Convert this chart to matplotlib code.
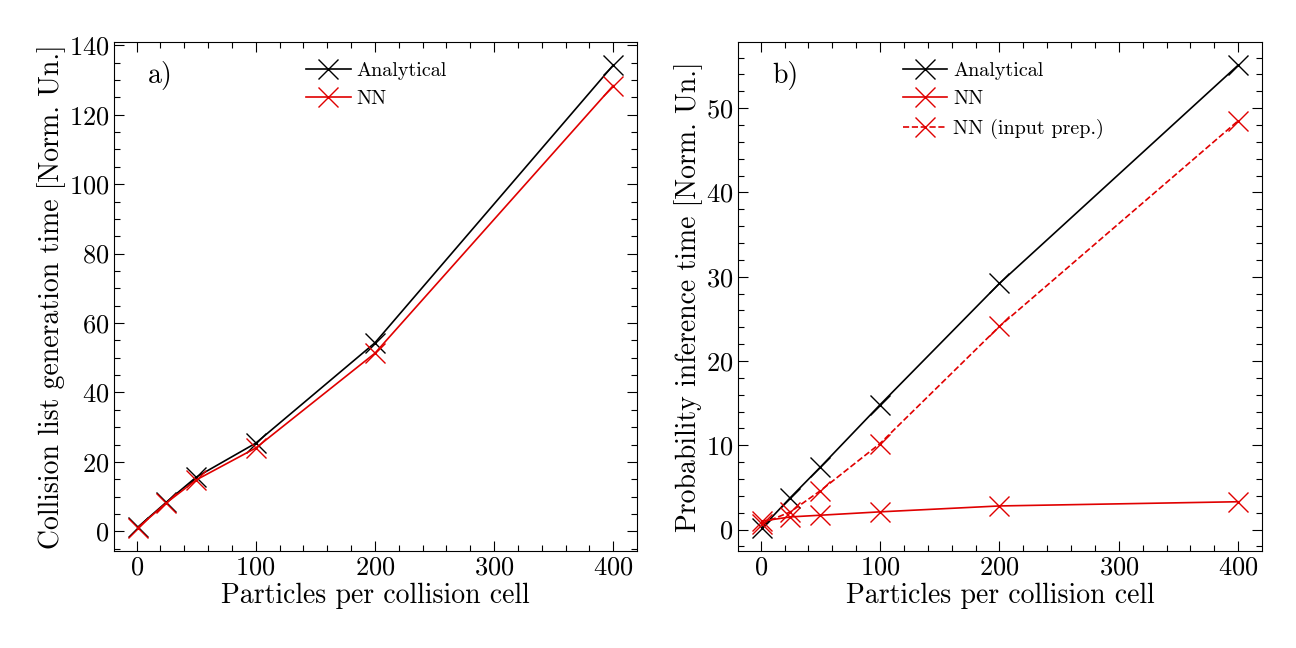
import matplotlib
matplotlib.use("Agg")
import matplotlib.pyplot as plt
from matplotlib.ticker import MultipleLocator

plt.rcParams['font.family'] = 'serif'
plt.rcParams['font.serif'] = ['cmr10']
plt.rcParams['mathtext.fontset'] = 'cm'
plt.rcParams['axes.formatter.use_mathtext'] = True

particles = [1, 25, 50, 100, 200, 400]

# panel a)
coll_analytical = [1.2, 8.4, 15.6, 25.4, 54.3, 134.3]
coll_nn = [1.0, 8.2, 14.8, 24.0, 51.3, 128.4]

# panel b)
prob_analytical = [0.2, 3.8, 7.4, 14.8, 29.2, 55.1]
prob_nn = [1.0, 1.5, 1.7, 2.1, 2.8, 3.3]
prob_nn_prep = [0.7, 2.1, 4.6, 10.2, 24.1, 48.5]

fig = plt.figure(figsize=(12.96, 6.48), dpi=100)
ax1 = fig.add_axes([114/1296, 97/648, 523/1296, 509/648])
ax2 = fig.add_axes([738/1296, 97/648, 524/1296, 509/648])

mk = dict(marker='x', markersize=15, markeredgewidth=1.0, linewidth=1.2)

ax1.plot(particles, coll_analytical, color='black', label='Analytical', **mk)
ax1.plot(particles, coll_nn, color='#e00000', label='NN', **mk)

ax2.plot(particles, prob_analytical, color='black', label='Analytical', **mk)
ax2.plot(particles, prob_nn, color='#e00000', label='NN', **mk)
ax2.plot(particles, prob_nn_prep, color='#e00000', linestyle='--', label='NN (input prep.)', **mk)

for ax in (ax1, ax2):
    ax.tick_params(which='both', direction='in', top=True, right=True, labelsize=19)
    ax.tick_params(which='major', length=7, width=0.8)
    ax.tick_params(which='minor', length=4, width=0.8)
    ax.xaxis.set_major_locator(MultipleLocator(100))
    ax.xaxis.set_minor_locator(MultipleLocator(20))
    ax.set_xlabel('Particles per collision cell', fontsize=20, labelpad=2)
    for s in ax.spines.values():
        s.set_linewidth(0.8)

ax1.yaxis.set_major_locator(MultipleLocator(20))
ax1.yaxis.set_minor_locator(MultipleLocator(5))
ax2.yaxis.set_major_locator(MultipleLocator(10))
ax2.yaxis.set_minor_locator(MultipleLocator(2))

ax1.set_ylabel('Collision list generation time [Norm. Un.]', fontsize=20, labelpad=2)
ax2.set_ylabel('Probability inference time [Norm. Un.]', fontsize=20, labelpad=2)

ax1.text(0.065, 0.935, 'a)', transform=ax1.transAxes, fontsize=20, va='center')
ax2.text(0.065, 0.935, 'b)', transform=ax2.transAxes, fontsize=20, va='center')

ax1.legend(loc='upper left', bbox_to_anchor=(0.333, 0.997), frameon=False, fontsize=14.5,
           handlelength=2.2, handletextpad=0.3, labelspacing=0.52)
ax2.legend(loc='upper left', bbox_to_anchor=(0.28, 0.997), frameon=False, fontsize=14.5,
           handlelength=2.2, handletextpad=0.3, labelspacing=0.52)

fig.savefig('out.png', dpi=100)
